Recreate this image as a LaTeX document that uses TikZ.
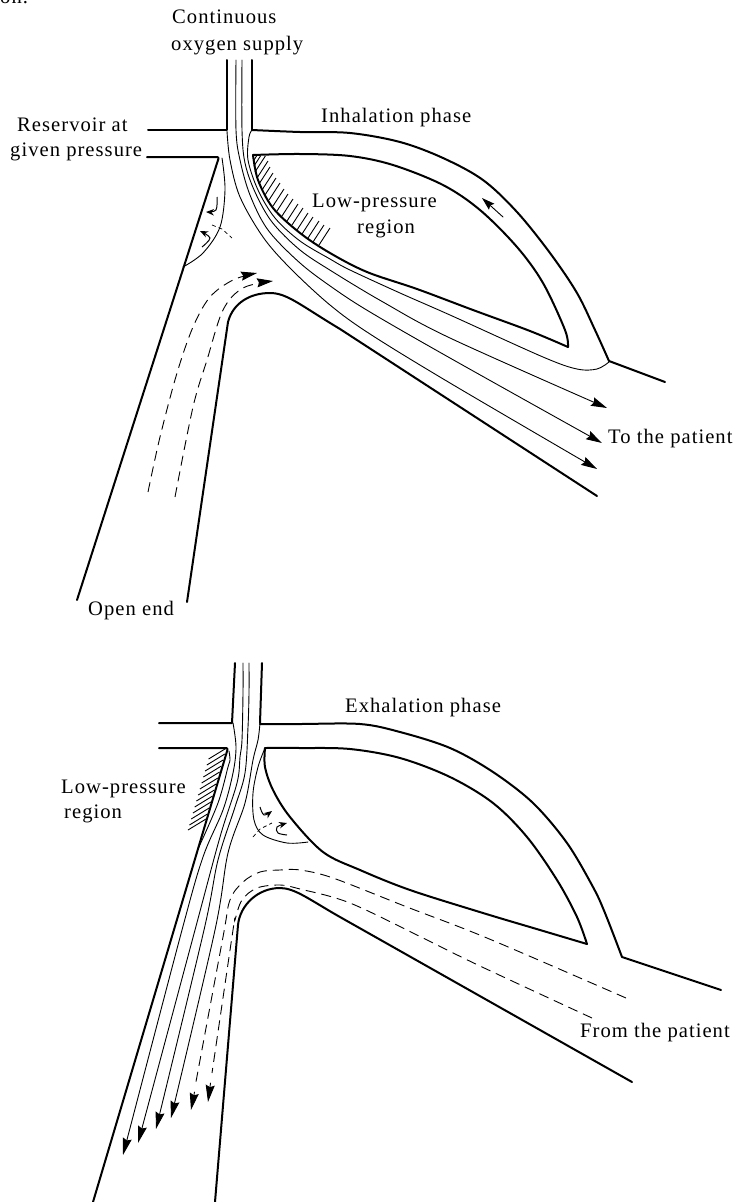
\documentclass[tikz,border=0pt]{standalone}
\usepackage{fontspec}
\setmainfont[LetterSpace=5]{Liberation Serif}
\usetikzlibrary{arrows.meta}
\tikzset{
  wall/.style={line width=2pt,line cap=round,line join=round},
  stream/.style={line width=0.9pt,line cap=round},
  dashstream/.style={line width=0.9pt,dash pattern=on 10pt off 6pt},
  hatchline/.style={line width=0.9pt},
  curl/.style={line width=1pt,-{Stealth[length=8pt,width=6.5pt]}},
  hd/.style={-{Stealth[length=16pt,width=9pt,inset=2pt]}},
  hdd/.style={-{Stealth[length=17pt,width=9pt,inset=2pt]}},
  lab/.style={anchor=base west,inner sep=0pt,font=\fontsize{20.6}{24}\selectfont},
  sm/.style={smooth,tension=0.55}
}
\begin{document}
\begin{tikzpicture}[x=1pt,y=-1pt]
\path[use as bounding box] (0,0) rectangle (745,1202);
% labels
\node[lab] (frag) at (0,3) {on.};
\node[lab] (t1) at (172,23) {Continuous};
\node[lab] (t2) at (171,50) {oxygen supply};
\node[lab] (t3) at (17,131) {Reservoir at};
\node[lab] (t4) at (10,156) {given pressure};
\node[lab] (t5) at (321,122) {Inhalation phase};
\node[lab] (t6) at (312,207) {Low-pressure};
\node[lab] (t7) at (357,233) {region};
\node[lab] (t8) at (608,443) {To the patient};
\node[lab] (t9) at (88,615) {Open end};
\node[lab] (t10) at (345,712) {Exhalation phase};
\node[lab] (t11) at (61,793) {Low-pressure};
\node[lab] (t12) at (64,818) {region};
\node[lab] (t13) at (580,1037) {From the patient};
%% ---------- upper diagram ----------
\draw[wall] (227,60) -- (227,130) -- (148,130);
\draw[wall] (252,60) -- (252,130);
\draw[wall] plot[sm] coordinates {(252,130) (300,132) (350,133) (400,142) (443,158) (483,180) (517,212) (550,253) (577,293) (595,330) (609,361)};
\draw[wall] (609,361) -- (665,382);
\draw[wall,rounded corners=2pt] (147,157) -- (219,157) -- (77,600);
\draw[wall] plot[sm] coordinates {(253,155) (300,154) (350,156) (393,165) (443,185) (480,210) (517,247) (543,283) (565,330) (568,347)};
\draw[wall] plot[sm] coordinates {(253,155) (258,180) (273,208) (300,233) (330,253) (367,272) (417,289) (473,310) (530,331) (568,347)};
\draw[wall] (187,602) -- (228,322) .. controls (233,303) and (250,293) .. (270,293) .. controls (287,293) and (300,305) .. (340,329) -- (597,496);
% hatching
\begin{scope}
\clip (240,156) rectangle (350,260);
\foreach \x/\y in {254/160,254/166,255/172,257/178,259/184,262/190,265/195,269/200,273/206,277/211,282/216,287/221,292/225,297/230,302/234,308/238,313/242,319/245}
  \draw[hatchline] (\x,\y) -- ++(11,-17);
\end{scope}
% streamlines
\draw[stream,hd] plot[sm] coordinates {(227,131) (230,160) (240,197) (263,237) (290,268) (330,305) (370,334) (450,383) (597,469)};
\draw[stream,hd] plot[sm] coordinates {(236,60) (236,130) (240,160) (250,195) (268,230) (300,263) (333,288) (370,312) (450,358) (602,443)};
\draw[stream,hd] plot[sm] coordinates {(242,60) (242,130) (245,163) (255,192) (272,222) (300,250) (333,272) (383,302) (450,338) (607,408)};
\draw[stream] plot[sm] coordinates {(252,130) (249,137) (248,160) (258,190) (275,218) (300,241) (330,259) (350,270) (400,293) (450,315) (543,357) (577,369) (597,369) (609,362)};
% vortex region
\draw[stream] plot[sm] coordinates {(222,158) (225,190) (220,227) (203,253) (183,267)};
\draw[curl] plot[sm] coordinates {(217,197) (216,210) (206,212)};
\draw[curl] plot[sm] coordinates {(202,247) (210,238) (200,231)};
\draw[line width=0.7pt,dash pattern=on 4pt off 3pt] (212,225) -- (222,229) -- (232,238);
% small arrow
\draw[stream,-{Stealth[length=13pt,width=8pt,inset=2pt]}] (503,217) -- (482,198);
% dashed flow
\draw[dashstream,hd] plot[sm] coordinates {(148,492) (160,437) (177,373) (193,327) (210,297) (233,280) (257,273)};
\draw[dashstream,hd] plot[sm] coordinates {(175,497) (193,407) (207,360) (223,310) (243,288) (273,281)};
%% ---------- lower diagram ----------
\draw[wall] (235,663) -- (232,723) -- (159,723);
\draw[wall] (262,663) -- (260,723);
\draw[wall] plot[sm] coordinates {(260,724) (300,724) (360,724) (400,732) (450,748) (493,772) (533,803) (567,843) (593,887) (605,913) (622,957)};
\draw[wall] (622,957) -- (721,990);
\draw[wall,rounded corners=2pt] (159,748) -- (228,748) -- (93,1202);
\draw[wall] plot[sm] coordinates {(265,748) (300,748) (350,749) (400,758) (450,777) (493,803) (527,837) (557,880) (577,917) (587,944)};
\draw[wall] plot[sm] coordinates {(265,748) (265,767) (273,790) (290,817) (323,852) (360,870) (410,890) (483,913) (540,930) (587,944)};
\draw[wall] (215,1202) -- (238,925) .. controls (240,905) and (258,888) .. (280,888) .. controls (295,888) and (310,900) .. (340,917) -- (632,1082);
% hatching
\begin{scope}
\clip (170,749) rectangle (235,840);
\foreach \y in {748,754,760,766,772,778,784,790,796,802,808,814,819} {
  \pgfmathsetmacro{\xw}{226-(\y-750)*0.29}
  \draw[hatchline] (\xw,\y) -- ++(-18,11);
}
\end{scope}
% streamlines
\draw[stream] plot[sm] coordinates {(229,751) (230,760) (228,767) (218,803) (198,849)};
\draw[stream,hdd] plot[sm] coordinates {(233,723) (236,747) (233,773) (223,810) (203,857) (182,930) (123,1155)};
\draw[stream,hdd] plot[sm] coordinates {(243,663) (243,693) (242,740) (240,757) (237,783) (220,837) (195,930) (138,1143)};
\draw[stream,hdd] plot[sm] coordinates {(249,663) (249,693) (248,727) (245,773) (235,807) (218,860) (204,930) (156,1129)};
\draw[stream,hdd] plot[sm] coordinates {(260,723) (258,740) (253,760) (245,803) (228,853) (215,930) (171,1118)};
% dashed flow
\draw[dashstream] plot[sm] coordinates {(626,998) (487,938) (407,907) (333,878) (300,870) (280,870) (260,872) (243,882) (230,900) (223,937) (195,1087)};
\draw[dashstream] plot[sm] coordinates {(592,1018) (480,966) (423,938) (350,903) (300,889) (280,885) (257,888) (242,900) (235,920) (233,930) (212,1073)};
\draw[stream,hdd] (194.5,1092) -- (191,1110);
\draw[stream,hdd] (210.5,1083) -- (208,1102);
% vortex region
\draw[stream] plot[sm] coordinates {(265,748) (258,767) (253,793) (254,820) (263,835) (287,843) (308,842)};
\draw[curl] plot[sm] coordinates {(260,807) (264,815) (272,811)};
\draw[curl] plot[sm] coordinates {(287,835) (278,833) (277,827) (287,823)};
\draw[line width=0.7pt,dash pattern=on 4pt off 3pt] (253,837) -- (260,829) -- (272,823);
\end{tikzpicture}
\end{document}
